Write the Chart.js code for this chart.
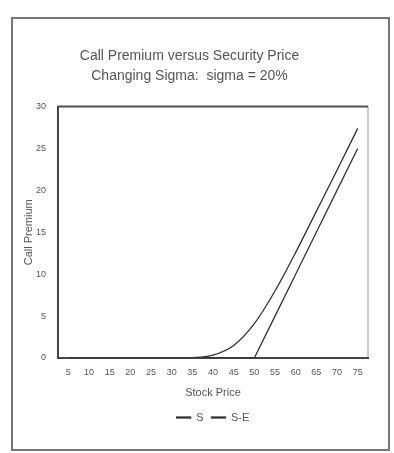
<!DOCTYPE html>
<html>
<head>
<meta charset="utf-8">
<script src="https://cdn.jsdelivr.net/npm/chart.js@4/dist/chart.umd.min.js"></script>
<style>
  html, body { margin: 0; padding: 0; background: #fff; }
  #wrap { position: relative; width: 394px; height: 453px; }
</style>
</head>
<body>
<div id="wrap"><canvas id="c" width="394" height="453"></canvas></div>
<script>
// ---- data ----
const stockPrices = ['5','10','15','20','25','30','35','40','45','50','55','60','65','70','75'];
const callPremiumS = [0, 0, 0, 0, 0, 0, 0.05, 0.35, 1.5, 4.1, 8.0, 12.6, 17.5, 22.4, 27.4];
const intrinsicSE  = [0, 0, 0, 0, 0, 0, 0, 0, 0, 0, 5, 10, 15, 20, 25];
const titleLines = ['Call Premium versus Security Price', 'Changing Sigma:  sigma = 20%'];
const xTitle = 'Stock Price';
const yTitle = 'Call Premium';
const seriesNames = ['S', 'S-E'];

const FONT = '"Liberation Sans Narrow", "Liberation Sans", Arial, sans-serif';
const TXT = '#555';
const LINE = '#333';

const framePlugin = {
  id: 'frames',
  beforeDraw(chart) {
    const ctx = chart.ctx;
    const a = chart.chartArea;
    ctx.save();
    // outer frame
    ctx.strokeStyle = '#777';
    ctx.lineWidth = 2;
    ctx.strokeRect(12, 18, 377, 432);
    // plot frame
    ctx.strokeStyle = '#999';
    ctx.lineWidth = 1;
    ctx.strokeRect(a.left, a.top, a.right - a.left, a.bottom - a.top);
    ctx.strokeStyle = '#555';
    ctx.lineWidth = 2;
    ctx.beginPath();
    ctx.moveTo(a.left, a.top);
    ctx.lineTo(a.right, a.top);
    ctx.stroke();
    ctx.restore();
  }
};

new Chart(document.getElementById('c'), {
  type: 'line',
  data: {
    labels: stockPrices,
    datasets: [
      { label: seriesNames[0], data: callPremiumS, borderColor: LINE, backgroundColor: LINE,
        borderWidth: 1.3, pointRadius: 0, tension: 0.3, cubicInterpolationMode: 'monotone' },
      { label: seriesNames[1], data: intrinsicSE, borderColor: LINE, backgroundColor: LINE,
        borderWidth: 1.3, pointRadius: 0, tension: 0 }
    ]
  },
  options: {
    responsive: false,
    animation: false,
    layout: { padding: { left: 11, right: 26, top: 0, bottom: 20 } },
    plugins: {
      title: {
        display: true,
        text: titleLines,
        color: TXT,
        font: { family: FONT, size: 14, weight: 'normal', lineHeight: 1.45 },
        padding: { top: 46, bottom: 20 }
      },
      legend: {
        position: 'bottom',
        fullSize: false,
        labels: {
          color: TXT,
          font: { family: FONT, size: 11 },
          boxWidth: 14,
          boxHeight: 1,
          padding: 8
        }
      },
      tooltip: { enabled: false }
    },
    scales: {
      x: {
        type: 'category',
        offset: true,
        grid: { display: false, drawTicks: false },
        border: { display: true, color: '#444', width: 2 },
        ticks: { color: TXT, font: { family: FONT, size: 9 }, padding: 9, maxRotation: 0, autoSkip: false },
        title: { display: true, text: xTitle, color: TXT, font: { family: FONT, size: 11 }, padding: { top: 4, bottom: 4 } },
        afterFit(s) { s.height = 46; }
      },
      y: {
        min: 0, max: 30,
        grid: { display: false, drawTicks: false },
        border: { display: true, color: '#444', width: 2 },
        ticks: { stepSize: 5, color: TXT, font: { family: FONT, size: 9 }, padding: 12 },
        title: { display: true, text: yTitle, color: TXT, font: { family: FONT, size: 11 }, padding: { top: 11, bottom: 0 } },
        afterFit(s) { s.width = 47; }
      }
    }
  },
  plugins: [framePlugin]
});
</script>
</body>
</html>
